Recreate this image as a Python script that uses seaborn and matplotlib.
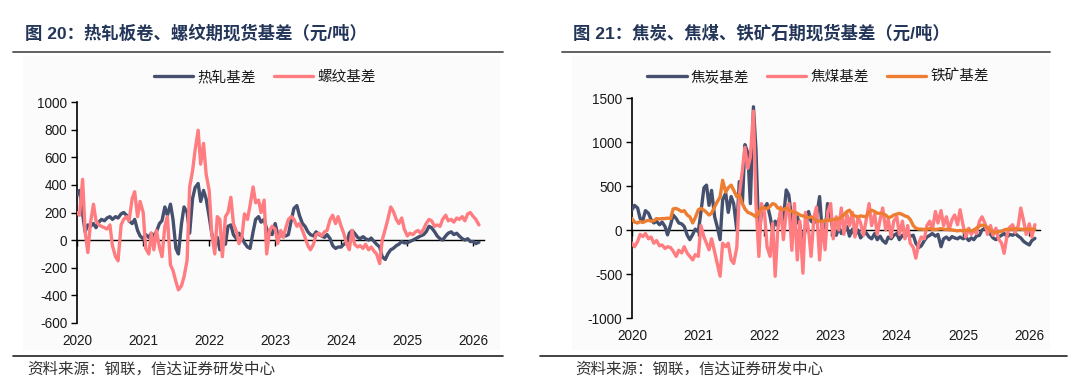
import numpy as np
import pandas as pd
import matplotlib
matplotlib.use("Agg")
import matplotlib.pyplot as plt
from matplotlib.lines import Line2D
from matplotlib.patches import Rectangle
import seaborn as sns

# ---------------- data (semi-monthly readings, 元/吨) ----------------
dates = pd.date_range("2020-01-01", periods=147, freq="SMS")

hrc_basis = [  # 热轧基差
    330, 360, 190, 60, 110, 100, 120, 90, 130, 150, 140, 160, 170, 150, 170, 160, 190, 200, 180, 140, 120, 150, 70, 30,
    10, 40, 20, 50, 30, 60, 120, 140, 240, 180, 260, 150, -60, -100, 120, 240, 200, 50, 300, 380, 410, 280, 360, 300,
    170, 50, -50, 20, -70, 10, -30, 100, 110, 40, 10, 50, 20, -20, -50, -60, 60, 150, 170, 130, 150, 80, 50, 40,
    120, 40, 30, 50, 30, 40, 150, 230, 250, 180, 120, 100, 60, 40, 30, 60, 40, 30, 20, 40, 10, -40, -60, -50,
    -50, -30, -20, 50, 70, 50, 20, 10, 25, 10, 0, 15, -10, -30, -50, -120, -140, -100, -70, -60, -40, -30, -10, -20,
    -20, -10, 0, 10, 20, 30, 40, 60, 100, 90, 60, 30, 10, 0, 30, 50, 60, 40, 50, 30, 10, 0, 10, -10,
    -10, -25, -15]

rebar_basis = [  # 螺纹基差
    200, 180, 440, 60, -90, 120, 260, 140, 110, 100, 90, 80, 110, -40, -120, -150, 110, 150, 170, 140, 300, 350, 170, 280,
    200, -60, -100, 50, -70, 70, -50, -120, 100, 170, -180, -220, -300, -360, -330, -265, -145, 385, 500, 650, 795, 550, 700, 480,
    360, 50, -100, 170, 150, -120, 170, 200, 310, 120, 60, -25, 20, 190, 150, 250, 385, 270, 290, 200, 290, -100, 70, 100,
    80, -25, 70, 20, 90, 150, 170, 150, 100, 120, 70, 20, -40, -70, -30, 40, 50, 30, 60, 70, 150, 180, 120, 170,
    100, 50, -30, -70, 70, -30, -50, -40, -60, -30, -70, -50, -80, -100, -170, 0, 80, 150, 240, 210, 150, 120, 160, 80,
    30, 50, 40, 60, 70, 50, 80, 120, 150, 140, 100, 110, 100, 150, 180, 140, 150, 130, 160, 150, 170, 140, 190, 200,
    170, 150, 110]

coke_basis = [  # 焦炭基差
    230, 280, 250, 130, 110, 220, 190, 120, 80, 100, 60, 90, 40, -55, 60, 170, 130, 80, 70, 40, -60, -110, -50, 10,
    -20, 200, 480, 510, 280, 450, 150, 40, -110, 340, 420, 200, 380, 300, 0, 550, 300, 970, 875, 300, 1400, 910, -100, 200,
    250, 300, 150, 0, 100, 50, 200, 120, 455, 400, 100, 0, 150, 50, -150, 20, 210, 100, 80, 150, 380, 0, -60, 300,
    150, -20, -60, 30, -40, 20, 40, -70, 10, -60, 0, -90, -50, -30, -80, -100, -40, -110, -70, -120, -150, -80, -100, -60,
    -40, -110, -60, -80, -40, -70, -60, -150, -200, -180, -120, -80, -60, -40, -70, -50, -190, -100, -80, -110, -75, -90, -100, -80,
    -100, -80, -120, -90, -110, -70, -60, 0, 20, 0, -50, -90, -110, -80, -60, -40, -75, -50, -60, -40, -70, -90, -130, -150,
    -170, -120, -95]

cokingcoal_basis = [  # 焦煤基差
    -150, -190, -130, -50, -75, -40, -100, -80, -150, -120, -180, -170, -210, -190, -200, -240, -300, -230, -260, -190, -265, -300, -340, -280,
    -300, 50, -80, -150, -225, -100, -250, -380, -525, -150, -190, -150, -340, -380, -200, 400, 680, 940, 700, 830, 1350, 300, -300, 300,
    200, -190, -300, 75, -525, 0, 260, -110, 200, 300, -230, 300, -340, 100, -490, 200, 0, -300, 150, 260, -340, 100, -225, 200,
    300, -100, 150, 0, 250, -50, 180, 50, 200, -80, 150, 80, -60, 100, 300, 50, 180, -50, 120, 250, 0, 120, -80, 100,
    150, -50, 100, -100, 50, -150, -200, -320, -150, -80, -100, 50, 100, 0, 210, 80, 220, 50, 150, 0, 120, 170, 60, 230,
    50, -80, 20, -50, 0, -40, 100, 150, 80, -50, 50, -60, 20, -100, -150, -265, -50, 30, 60, -30, 50, 250, 100, -50,
    70, -80, 60]

ironore_basis = [  # 铁矿基差
    130, 90, 80, 95, 85, 100, 110, 100, 105, 130, 125, 130, 130, 135, 130, 240, 245, 230, 210, 220, 170, 150, 80, 140,
    230, 245, 225, 200, 170, 190, 265, 320, 375, 565, 430, 480, 510, 450, 380, 400, 300, 240, 200, 190, 170, 150, 200, 250,
    250, 240, 270, 300, 290, 250, 240, 230, 250, 230, 210, 200, 190, 170, 160, 150, 140, 150, 130, 110, 100, 95, 110, 110,
    110, 120, 120, 130, 150, 170, 210, 225, 170, 160, 150, 160, 155, 150, 205, 225, 210, 190, 190, 185, 170, 140, 150, 170,
    180, 190, 175, 160, 150, 120, 50, 20, 10, 10, 5, 10, 15, 10, 5, 10, 15, 10, 5, 10, 0, -5, -10, -5,
    -10, -5, 0, -10, 0, 20, 45, 55, 50, 30, -10, -20, -30, -20, -15, 0, 10, 5, 10, 15, 10, 10, 5, 10,
    5, 10, 8]

left_series = ["热轧基差", "螺纹基差"]
right_series = ["焦炭基差", "焦煤基差", "铁矿基差"]
year_ticks = ["2020", "2021", "2022", "2023", "2024", "2025", "2026"]
left_yticks = [-600, -400, -200, 0, 200, 400, 600, 800, 1000]
right_yticks = [-1000, -500, 0, 500, 1000, 1500]

title_left = "图 20：热轧板卷、螺纹期现货基差（元/吨）"
title_right = "图 21：焦炭、焦煤、铁矿石期现货基差（元/吨）"
source_text = "资料来源：钢联，信达证券研发中心"

# ---------------- style ----------------
sns.set_style("white")
plt.rcParams["font.family"] = ["Liberation Sans", "Noto Sans CJK SC", "DejaVu Sans"]
plt.rcParams["axes.unicode_minus"] = False

NAVY = "#44506E"
PINK = "#FF7C80"
ORANGE = "#ED7D31"
TXT = "#1A1A1A"
TITLE_C = "#233659"

W, H = 1080, 383
fig = plt.figure(figsize=(W / 100, H / 100), dpi=100)
fig.patch.set_facecolor("white")


def fx(px):
    return px / W


def fy(py):
    return 1 - py / H


# panel backgrounds (behind the axes)
for x0, x1 in [(23, 500), (572, 1050)]:
    fig.patches.append(Rectangle((fx(x0), fy(350)), fx(x1 - x0), (350 - 56) / H,
                                 transform=fig.transFigure, facecolor="#FBFBFB",
                                 edgecolor="none", zorder=-5))

# title rules & bottom rules
for (x0, x1, y, c, lw) in [(13, 503, 52, "#555555", 1.3), (562, 1050, 52, "#555555", 1.3),
                           (13, 503, 356, "#222222", 1.2), (540, 1067, 356, "#222222", 1.2)]:
    fig.add_artist(Line2D([fx(x0), fx(x1)], [fy(y), fy(y)], transform=fig.transFigure,
                          color=c, lw=lw))

fig.text(fx(25), fy(33), title_left, fontsize=12.5, fontweight="bold", color=TITLE_C,
         va="center", ha="left")
fig.text(fx(573), fy(33), title_right, fontsize=12.5, fontweight="bold", color=TITLE_C,
         va="center", ha="left")
for sx in (27, 575):
    fig.text(fx(sx), fy(369), source_text, fontsize=11.2, color="#333333", va="center",
             ha="left", fontstyle="italic", family=["Noto Sans CJK SC"])

xmin = pd.Timestamp("2020-01-01")
xmax = pd.Timestamp("2026-03-01")


def style_axes(ax, yticks):
    ax.set_facecolor("none")
    ax.set_xlim(xmin, xmax)
    ax.set_ylim(yticks[0], yticks[-1])
    ax.set_yticks(yticks)
    ax.set_yticklabels([str(v) for v in yticks])
    ax.set_xticks([pd.Timestamp(y + "-01-01") for y in year_ticks])
    ax.set_xticklabels(year_ticks)
    for s in ["right", "bottom"]:
        ax.spines[s].set_visible(False)
    ax.spines["left"].set_color("black")
    ax.spines["left"].set_linewidth(1.2)
    ax.spines["top"].set_position(("data", 0))
    ax.spines["top"].set_color("black")
    ax.spines["top"].set_linewidth(1.0)
    ax.spines["top"].set_zorder(1)
    ax.tick_params(axis="y", direction="out", length=4, width=1, color="black",
                   labelsize=9.8, labelcolor=TXT, pad=3, left=True)
    ax.tick_params(axis="x", direction="in", length=4, width=1, color="black",
                   top=True, bottom=False, labeltop=False, labelbottom=True,
                   labelsize=9.8, labelcolor=TXT, pad=8)
    ax.set_xlabel("")
    ax.set_ylabel("")
    ax.grid(False)


# ---------------- left chart ----------------
axL = fig.add_axes([fx(77), fy(323), fx(407), (323 - 102) / H])
dfL = pd.DataFrame({"date": np.tile(dates, 2),
                    "value": hrc_basis + rebar_basis,
                    "series": np.repeat(left_series, len(dates))})
sns.lineplot(data=dfL, x="date", y="value", hue="series", hue_order=left_series,
             palette=[NAVY, PINK], linewidth=2.4, ax=axL, zorder=3)
style_axes(axL, left_yticks)
h, l = axL.get_legend_handles_labels()
axL.legend(h, l, loc="center", bbox_to_anchor=(fx(265), fy(77)),
           bbox_transform=fig.transFigure, ncol=2, frameon=False, fontsize=10.5,
           handlelength=2.7, columnspacing=1.2, handletextpad=0.3,
           labelcolor=TXT)

# ---------------- right chart ----------------
axR = fig.add_axes([fx(632), fy(318), fx(408), (318 - 98) / H])
dfR = pd.DataFrame({"date": np.tile(dates, 3),
                    "value": coke_basis + cokingcoal_basis + ironore_basis,
                    "series": np.repeat(right_series, len(dates))})
sns.lineplot(data=dfR, x="date", y="value", hue="series", hue_order=right_series,
             palette=[NAVY, PINK, ORANGE], linewidth=2.4, ax=axR, zorder=3)
style_axes(axR, right_yticks)
h, l = axR.get_legend_handles_labels()
axR.legend(h, l, loc="center", bbox_to_anchor=(fx(818), fy(77)),
           bbox_transform=fig.transFigure, ncol=3, frameon=False, fontsize=10.5,
           handlelength=2.7, columnspacing=1.2, handletextpad=0.3,
           labelcolor=TXT)

fig.savefig("out.png", dpi=100)
